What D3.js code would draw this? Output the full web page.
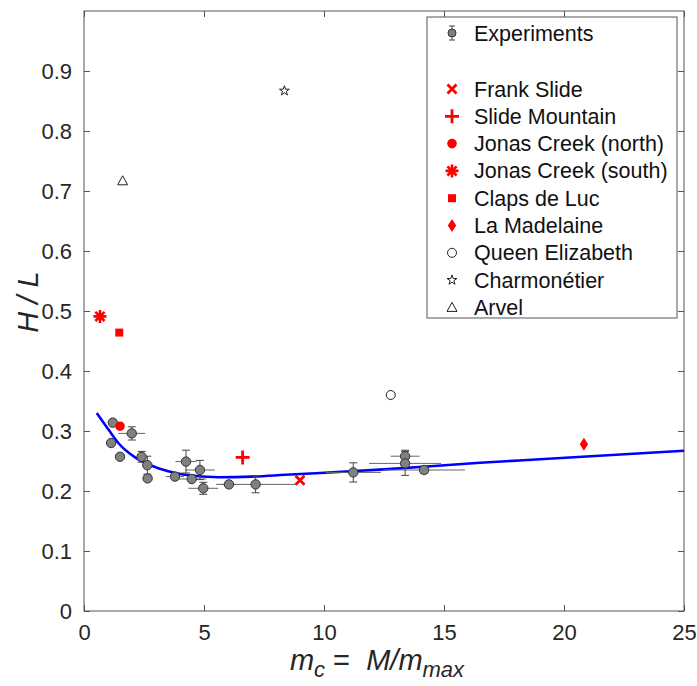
<!DOCTYPE html>
<html>
<head>
<meta charset="utf-8">
<script src="https://cdn.jsdelivr.net/npm/d3@7"></script>
<style>
  body { margin: 0; background: #fff; }
  text { font-family: "Liberation Sans", Arial, sans-serif; }
</style>
</head>
<body>
<svg></svg>
<script>
const margin = {t: 11, r: 13, b: 75, l: 84};
const size = {w: 697, h: 686};
const svg = d3.select('svg');

svg.attr('width', size.w)
    .attr('height', size.h);

// experiments: x, y, x error, y error
const expX    = [1.20, 1.99, 1.13, 1.50, 2.40, 2.64, 2.65, 4.25, 4.83, 3.79, 4.49, 4.97, 6.04, 7.15, 11.22, 13.38, 13.38, 14.17];
const expY    = [0.314, 0.296, 0.280, 0.257, 0.257, 0.243, 0.221, 0.249, 0.235, 0.224, 0.220, 0.2045, 0.211, 0.211, 0.231, 0.258, 0.246, 0.235];
const expXErr = [0.20, 0.56, 0.05, 0.05, 0.10, 0.10, 0.05, 0.44, 0.62, 0.38, 0.60, 0.62, 0.30, 1.65, 1.15, 0.60, 1.50, 1.70];
const expYErr = [0, 0.011, 0, 0, 0.009, 0.015, 0, 0.019, 0.016, 0, 0, 0.010, 0, 0.014, 0.016, 0.010, 0.020, 0.005];

// fitted curve
const fitX = [0.53, 1.08, 1.43, 2.13, 2.82, 3.51, 4.21, 5.60, 6.99, 8.38, 12.5, 16.5, 19.0, 25.0];
const fitY = [0.330, 0.299, 0.280, 0.256, 0.242, 0.233, 0.227, 0.223, 0.224, 0.227, 0.236, 0.247, 0.253, 0.267];

// field cases
const siteNames = ['Frank Slide', 'Slide Mountain', 'Jonas Creek (north)', 'Jonas Creek (south)',
    'Claps de Luc', 'La Madelaine', 'Queen Elizabeth', 'Charmonétier', 'Arvel'];
const siteX = [9.00, 6.61, 1.50, 0.665, 1.47, 20.83, 12.78, 8.35, 1.61];
const siteY = [0.218, 0.256, 0.308, 0.491, 0.464, 0.278, 0.360, 0.867, 0.717];

const xTicks = [0, 5, 10, 15, 20, 25];
const yTicks = [0, 0.1, 0.2, 0.3, 0.4, 0.5, 0.6, 0.7, 0.8, 0.9];

const innerW = size.w - margin.l - margin.r;
const innerH = size.h - margin.t - margin.b;

const xScale = d3.scaleLinear().domain([0, 25]).range([0, innerW]);
const yScale = d3.scaleLinear().domain([0, 1]).range([innerH, 0]);

const g = svg.append('g')
    .attr('transform', `translate(${margin.l},${margin.t})`);

// --------- AXES ----------
const axisColor = '#555';
const tickLen = 6;

function styleAxis(sel) {
    sel.select('.domain').remove();
    sel.selectAll('.tick line').attr('stroke', axisColor);
    sel.selectAll('.tick text')
        .attr('fill', '#262626')
        .style('font-size', '22px');
}

g.append('g')
    .attr('transform', `translate(0,${innerH})`)
    .call(d3.axisBottom(xScale).tickValues(xTicks).tickSizeInner(-tickLen).tickSizeOuter(0).tickPadding(13))
    .call(styleAxis);

g.append('g')
    .call(d3.axisTop(xScale).tickValues(xTicks).tickSizeInner(-tickLen).tickSizeOuter(0).tickFormat(''))
    .call(styleAxis);

g.append('g')
    .call(d3.axisLeft(yScale).tickValues(yTicks).tickSizeInner(-tickLen).tickSizeOuter(0).tickPadding(12)
        .tickFormat(d => d === 0 ? '0' : d3.format('.1f')(d)))
    .call(styleAxis);

g.append('g')
    .attr('transform', `translate(${innerW},0)`)
    .call(d3.axisRight(yScale).tickValues(yTicks).tickSizeInner(-tickLen).tickSizeOuter(0).tickFormat(''))
    .call(styleAxis);

g.append('rect')
    .attr('width', innerW)
    .attr('height', innerH)
    .attr('fill', 'none')
    .attr('stroke', axisColor)
    .attr('stroke-width', 1);

// axis labels
svg.append('text')
    .attr('x', 377)
    .attr('y', 670)
    .attr('text-anchor', 'middle')
    .style('font-size', '29px')
    .style('font-style', 'italic')
    .attr('fill', '#262626')
    .html('m<tspan dy="7" font-size="22px">c</tspan><tspan dy="-7" font-style="normal" xml:space="preserve"> =  </tspan>M/m<tspan dy="7" font-size="22px">max</tspan>');

svg.append('text')
    .attr('transform', `translate(38,302) rotate(-90)`)
    .attr('text-anchor', 'middle')
    .style('font-size', '29px')
    .style('font-style', 'italic')
    .attr('fill', '#262626')
    .text('H / L');

// --------- FIT CURVE ----------
const line = d3.line()
    .x(i => xScale(fitX[i]))
    .y(i => yScale(fitY[i]))
    .curve(d3.curveMonotoneX);

g.append('path')
    .attr('d', line(d3.range(fitX.length)))
    .attr('fill', 'none')
    .attr('stroke', '#0000ff')
    .attr('stroke-width', 2.6);

// --------- EXPERIMENTS ----------
const expIdx = d3.range(expX.length);
const errG = g.append('g').attr('stroke', '#444').attr('stroke-width', 1);

// horizontal bars
errG.selectAll('line.xerr')
    .data(expIdx.filter(i => expXErr[i] > 0))
    .join('line')
    .attr('stroke', '#666')
    .attr('x1', i => xScale(expX[i] - expXErr[i]))
    .attr('x2', i => xScale(expX[i] + expXErr[i]))
    .attr('y1', i => yScale(expY[i]))
    .attr('y2', i => yScale(expY[i]));

// vertical bars with caps
const withY = expIdx.filter(i => expYErr[i] > 0);
errG.selectAll('line.yerr')
    .data(withY)
    .join('line')
    .attr('x1', i => xScale(expX[i]))
    .attr('x2', i => xScale(expX[i]))
    .attr('y1', i => yScale(expY[i] - expYErr[i]))
    .attr('y2', i => yScale(expY[i] + expYErr[i]));

[-1, 1].forEach(s => {
    errG.append('g').selectAll('line')
        .data(withY)
        .join('line')
        .attr('x1', i => xScale(expX[i]) - 4)
        .attr('x2', i => xScale(expX[i]) + 4)
        .attr('y1', i => yScale(expY[i] + s * expYErr[i]))
        .attr('y2', i => yScale(expY[i] + s * expYErr[i]));
});

g.append('g').selectAll('circle')
    .data(expIdx)
    .join('circle')
    .attr('cx', i => xScale(expX[i]))
    .attr('cy', i => yScale(expY[i]))
    .attr('r', 4.7)
    .attr('fill', '#808080')
    .attr('stroke', '#333')
    .attr('stroke-width', 1);

// --------- FIELD CASES ----------
// one drawing function per marker type
const red = '#ff0000';
const markers = [
    (s) => s.append('path').attr('d', 'M-4.5,-4.5L4.5,4.5M-4.5,4.5L4.5,-4.5').attr('stroke', red).attr('stroke-width', 2.8).attr('fill', 'none'),
    (s) => s.append('path').attr('d', 'M-7,0H7M0,-7V7').attr('stroke', red).attr('stroke-width', 2.8).attr('fill', 'none'),
    (s) => s.append('circle').attr('r', 4.8).attr('fill', red),
    (s) => s.append('path').attr('d', 'M-6.5,0H6.5M0,-6.5V6.5M-4.6,-4.6L4.6,4.6M-4.6,4.6L4.6,-4.6').attr('stroke', red).attr('stroke-width', 2.6).attr('fill', 'none'),
    (s) => s.append('rect').attr('x', -4).attr('y', -4).attr('width', 8).attr('height', 8).attr('fill', red),
    (s) => s.append('path').attr('d', 'M0,-6.5L4.2,0L0,6.5L-4.2,0Z').attr('fill', red),
    (s) => s.append('circle').attr('r', 4.5).attr('fill', 'none').attr('stroke', '#222').attr('stroke-width', 1),
    (s) => s.append('path').attr('d', d3.symbol(d3.symbolStar, 30)()).attr('fill', 'none').attr('stroke', '#222').attr('stroke-width', 1),
    (s) => s.append('path').attr('d', 'M0,-5L5,4H-5Z').attr('fill', 'none').attr('stroke', '#222').attr('stroke-width', 1)
];

siteNames.forEach((name, i) => {
    const m = g.append('g')
        .attr('transform', `translate(${xScale(siteX[i])},${yScale(siteY[i])})`);
    markers[i](m);
});

// --------- LEGEND ----------
const legend = svg.append('g').attr('transform', 'translate(427,17)');
legend.append('rect')
    .attr('width', 250)
    .attr('height', 301)
    .attr('fill', '#fff')
    .attr('stroke', '#555')
    .attr('stroke-width', 1);

const legX = 25, legTextX = 47, legFont = '21.5px';
const expRow = legend.append('g').attr('transform', 'translate(0,16)');
expRow.append('path')
    .attr('d', `M${legX},-7V7M${legX - 3},-7H${legX + 3}M${legX - 3},7H${legX + 3}`)
    .attr('stroke', '#444').attr('fill', 'none');
expRow.append('circle').attr('cx', legX).attr('r', 4).attr('fill', '#808080').attr('stroke', '#333');
expRow.append('text')
    .attr('x', legTextX).attr('dy', '0.35em')
    .style('font-size', legFont).attr('fill', '#111')
    .text('Experiments');

siteNames.forEach((name, i) => {
    const row = legend.append('g').attr('transform', `translate(0,${72 + i * 27.3})`);
    markers[i](row.append('g').attr('transform', `translate(${legX},0)`));
    row.append('text')
        .attr('x', legTextX).attr('dy', '0.35em')
        .style('font-size', legFont).attr('fill', '#111')
        .text(name);
});
</script>
</body>
</html>
